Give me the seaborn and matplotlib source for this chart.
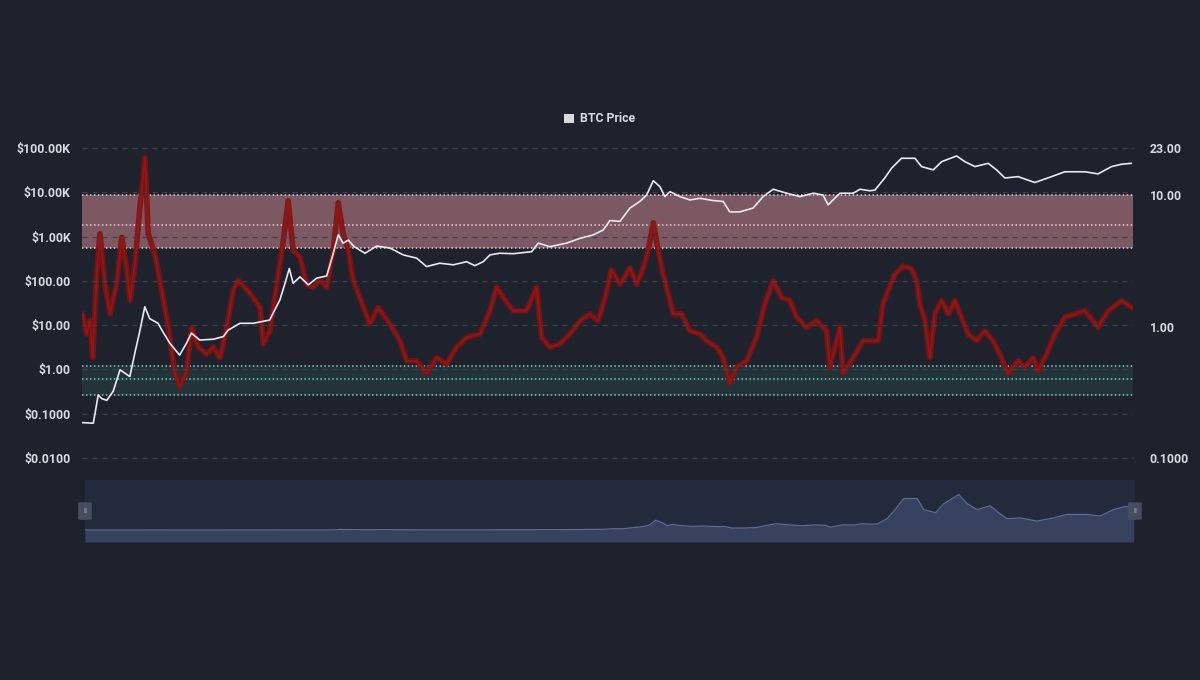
import numpy as np
import pandas as pd
import matplotlib
matplotlib.use("Agg")
import matplotlib.pyplot as plt
from matplotlib.patches import Patch, FancyBboxPatch
import seaborn as sns

# ---------------- data ----------------
price_dates = [
    "2010-08-16", "2010-10-08", "2010-10-16", "2010-10-31", "2010-11-16", "2010-12-10",
    "2011-01-09", "2011-02-10", "2011-03-28", "2011-04-20", "2011-05-13", "2011-06-06",
    "2011-06-29", "2011-08-07", "2011-08-30", "2011-10-01", "2011-11-16", "2011-12-18",
    "2012-01-10", "2012-02-18", "2012-04-21", "2012-06-07", "2012-06-30", "2012-08-24",
    "2012-10-25", "2013-01-10", "2013-02-27", "2013-03-23", "2013-04-12", "2013-04-30",
    "2013-06-01", "2013-07-10", "2013-08-18", "2013-10-04", "2013-11-04", "2013-11-27",
    "2013-12-20", "2014-01-13", "2014-02-10", "2014-04-01", "2014-05-26", "2014-07-27",
    "2014-09-27", "2014-11-29", "2015-01-14", "2015-03-17", "2015-05-19", "2015-07-21",
    "2015-08-28", "2015-10-06", "2015-11-07", "2015-12-23", "2016-02-24", "2016-05-20",
    "2016-06-20", "2016-08-13", "2016-10-30", "2017-01-01", "2017-03-04", "2017-04-20",
    "2017-05-21", "2017-07-07", "2017-08-23", "2017-10-08", "2017-11-09", "2017-12-10",
    "2018-01-10", "2018-02-02", "2018-02-26", "2018-04-13", "2018-05-30", "2018-07-16",
    "2018-09-16", "2018-11-02", "2018-12-03", "2019-01-19", "2019-03-22", "2019-05-08",
    "2019-06-24", "2019-08-26", "2019-10-27", "2019-12-28", "2020-02-12", "2020-03-07",
    "2020-05-01", "2020-07-02", "2020-08-03", "2020-09-18", "2020-10-12", "2020-11-27",
    "2020-12-29", "2021-02-13", "2021-04-17", "2021-05-18", "2021-07-12", "2021-08-20",
    "2021-10-29", "2021-12-07", "2022-01-23", "2022-03-26", "2022-05-04", "2022-06-12",
    "2022-08-13", "2022-10-30", "2023-01-16", "2023-03-19", "2023-06-21", "2023-08-22",
    "2023-10-24", "2023-12-10", "2024-01-25",
]
price_values = [
    0.063, 0.061, 0.10, 0.265, 0.22, 0.20,
    0.32, 0.98, 0.69, 2.3, 7.1, 26,
    14, 11, 7, 3.9, 2.1, 3.9,
    6.6, 4.6, 4.8, 5.5, 7.7, 11,
    11, 13, 37, 88, 190, 88,
    123, 81, 115, 129, 420, 1090,
    710, 830, 590, 420, 610, 550,
    385, 325, 210, 250, 230, 270,
    220, 270, 385, 420, 410, 455,
    710, 590, 710, 910, 1090, 1410,
    2300, 2200, 4400, 6200, 8700, 18200,
    13400, 8000, 10300, 8000, 6700, 7300,
    6500, 6200, 3600, 3600, 4400, 8000,
    11700, 9500, 8000, 9500, 8700, 5200,
    9500, 9500, 11700, 10800, 11200, 21000,
    35000, 58500, 58500, 38000, 32000, 49000,
    66000, 49000, 38000, 45000, 32000, 21000,
    22500, 16600, 22500, 29000, 29000, 26000,
    38000, 43000, 45000,
]

puell_dates = [
    "2010-08-19", "2010-09-07", "2010-09-22", "2010-10-05", "2010-10-24", "2010-11-08",
    "2010-12-02", "2010-12-25", "2011-01-25", "2011-02-18", "2011-03-13", "2011-03-29",
    "2011-04-21", "2011-05-14", "2011-06-07", "2011-06-22", "2011-07-23", "2011-08-24",
    "2011-09-24", "2011-10-25", "2011-11-17", "2011-12-19", "2012-01-11", "2012-02-11",
    "2012-03-21", "2012-04-21", "2012-05-23", "2012-06-23", "2012-07-24", "2012-08-16",
    "2012-09-16", "2012-10-25", "2012-11-26", "2012-12-11", "2013-01-11", "2013-02-12",
    "2013-03-15", "2013-04-07", "2013-04-30", "2013-06-01", "2013-07-02", "2013-08-02",
    "2013-09-02", "2013-10-04", "2013-11-04", "2013-11-27", "2013-12-20", "2014-01-13",
    "2014-02-05", "2014-03-08", "2014-04-24", "2014-06-02", "2014-07-27", "2014-09-12",
    "2014-10-13", "2014-11-29", "2015-01-14", "2015-03-02", "2015-04-18", "2015-06-04",
    "2015-07-21", "2015-09-21", "2015-11-07", "2015-12-08", "2016-01-08", "2016-02-24",
    "2016-04-26", "2016-06-12", "2016-07-05", "2016-08-13", "2016-09-29", "2016-11-15",
    "2017-01-01", "2017-02-16", "2017-03-27", "2017-04-28", "2017-05-29", "2017-07-07",
    "2017-08-23", "2017-09-23", "2017-10-24", "2017-11-16", "2017-12-10", "2018-01-02",
    "2018-01-25", "2018-02-18", "2018-03-13", "2018-04-21", "2018-05-30", "2018-07-16",
    "2018-08-16", "2018-10-02", "2018-11-02", "2018-12-03", "2019-01-04", "2019-02-19",
    "2019-04-07", "2019-05-16", "2019-06-24", "2019-08-02", "2019-09-10", "2019-10-11",
    "2019-11-27", "2020-01-13", "2020-02-29", "2020-03-15", "2020-05-01", "2020-05-16",
    "2020-07-02", "2020-08-18", "2020-10-27", "2020-11-19", "2020-12-13", "2021-01-13",
    "2021-02-21", "2021-04-01", "2021-04-25", "2021-05-10", "2021-06-03", "2021-06-26",
    "2021-07-19", "2021-08-20", "2021-09-20", "2021-10-21", "2021-11-21", "2021-12-22",
    "2022-01-30", "2022-03-10", "2022-04-18", "2022-05-19", "2022-06-27", "2022-08-13",
    "2022-09-13", "2022-10-22", "2022-11-15", "2022-12-24", "2023-02-01", "2023-03-19",
    "2023-05-05", "2023-06-21", "2023-08-22", "2023-10-08", "2023-12-10", "2024-01-25",
]
puell_values = [
    1.25, 0.88, 1.11, 0.58, 2.5, 5.1,
    2.1, 1.25, 2.1, 4.8, 2.8, 1.58,
    3.0, 8.1, 19.4, 5.1, 3.6, 1.9,
    0.99, 0.44, 0.35, 0.46, 0.99, 0.70,
    0.62, 0.70, 0.58, 0.99, 1.9, 2.24,
    2.0, 1.67, 1.40, 0.74, 0.93, 2.1,
    4.5, 9.1, 3.8, 3.4, 2.1, 2.0,
    2.24, 2.0, 3.8, 8.8, 5.1, 3.8,
    2.24, 1.67, 1.05, 1.40, 1.05, 0.78,
    0.55, 0.55, 0.44, 0.58, 0.52, 0.70,
    0.83, 0.88, 1.32, 2.0, 1.67, 1.32,
    1.32, 2.0, 0.83, 0.70, 0.74, 0.88,
    1.11, 1.25, 1.11, 1.67, 2.7, 2.1,
    2.8, 2.1, 2.8, 3.8, 6.2, 3.8,
    2.5, 1.77, 1.25, 1.25, 0.93, 0.88,
    0.78, 0.70, 0.58, 0.37, 0.49, 0.55,
    0.83, 1.49, 2.24, 1.67, 1.58, 1.18,
    0.99, 1.11, 0.93, 0.49, 0.99, 0.44,
    0.58, 0.78, 0.78, 1.49, 1.9, 2.5,
    2.9, 2.75, 2.24, 1.49, 1.11, 0.58,
    1.25, 1.58, 1.25, 1.58, 1.18, 0.88,
    0.78, 0.93, 0.78, 0.62, 0.44, 0.55,
    0.49, 0.58, 0.46, 0.62, 0.88, 1.18,
    1.25, 1.32, 0.99, 1.32, 1.58, 1.40,
]

x_tick_dates = [
    "2010-08-16", "2011-04-13", "2011-12-09", "2012-08-05", "2013-04-02", "2013-11-28",
    "2014-07-26", "2015-03-23", "2015-11-18", "2016-07-15", "2017-03-12", "2017-11-07",
    "2018-07-05", "2019-03-02", "2019-10-28", "2020-06-24", "2021-02-19", "2021-10-17",
    "2022-06-14", "2023-02-09", "2023-10-07",
]
x_tick_labels = [
    "16 Aug", "13 Apr", "9 Dec", "5 Aug", "2 Apr", "28 Nov", "26 Jul", "23 Mar", "18 Nov",
    "15 Jul", "12 Mar", "7 Nov", "5 Jul", "2 Mar", "28 Oct", "24 Jun", "19 Feb", "17 Oct",
    "14 Jun", "9 Feb", "7 Oct",
]
left_ticks = [0.01, 0.1, 1, 10, 100, 1000, 10000, 100000]
left_labels = ["$0.0100", "$0.1000", "$1.00", "$10.00", "$100.00", "$1.00K", "$10.00K", "$100.00K"]
right_ticks = [0.1, 1, 10, 23]
right_labels = ["0.1000", "1.00", "10.00", "23.00"]
red_band = [4, 6, 10]
green_band = [0.3, 0.4, 0.5]
x_start, x_end = "2010-08-16", "2024-02-01"

# ---------------- styling ----------------
BG = "#1e222d"
TXT = "#d8dbe2"
sns.set_theme(style="dark")
plt.rcParams["font.family"] = ["Roboto", "DejaVu Sans"]
plt.rcParams.update({
    "figure.facecolor": BG, "axes.facecolor": BG, "savefig.facecolor": BG,
    "text.color": TXT, "xtick.color": TXT, "ytick.color": TXT,
})

price_df = pd.DataFrame({"date": pd.to_datetime(price_dates), "price": price_values})
puell_df = pd.DataFrame({"date": pd.to_datetime(puell_dates), "puell": puell_values})
xlim = (pd.Timestamp(x_start), pd.Timestamp(x_end))

fig = plt.figure(figsize=(12, 6.8), dpi=100)
ax2 = fig.add_axes([0.0683, 0.3265, 0.8758, 0.4559])   # Puell (right axis)
ax = ax2.twinx()                                         # price (left axis)
ax.yaxis.tick_left()
ax2.yaxis.tick_right()
ax.set_zorder(ax2.get_zorder() + 1)
ax.patch.set_visible(False)

# bands on Puell axis
ax2.axhspan(red_band[0], red_band[-1], color="#f19aa7", alpha=0.45, lw=0, zorder=1)
ax2.axhspan(green_band[0], green_band[-1], color="#3b8a80", alpha=0.17, lw=0, zorder=1)
for v in red_band:
    ax2.axhline(v, color="#f2cbd3", lw=1.1, ls=(0, (1, 1.6)), zorder=2)
for v in green_band:
    ax2.axhline(v, color="#86cfc3", lw=1.1, ls=(0, (1, 1.6)), zorder=2)

sns.lineplot(data=puell_df, x="date", y="puell", ax=ax2, color="#7e1212",
             lw=4.0, alpha=0.9, estimator=None, zorder=3, legend=False)
sns.lineplot(data=puell_df, x="date", y="puell", ax=ax2, color="#951818",
             lw=1.2, alpha=0.9, estimator=None, zorder=3, legend=False)
ax2.set_yscale("log")
ax2.set_ylim(0.1, 23)
ax2.set_yticks(right_ticks)
ax2.set_yticklabels(right_labels)
ax2.yaxis.set_minor_locator(plt.NullLocator())

sns.lineplot(data=price_df, x="date", y="price", ax=ax, color="#e8eaef",
             lw=1.2, estimator=None, zorder=4, legend=False)
ax.set_yscale("log")
ax.set_ylim(0.01, 100000)
ax.set_yticks(left_ticks)
ax.set_yticklabels(left_labels)
ax.yaxis.set_minor_locator(plt.NullLocator())
ax.grid(axis="y", color="#3c404c", ls=(0, (4, 4)), lw=0.9)
ax.grid(axis="x", visible=False)
ax2.grid(False)
ax.axhline(left_ticks[0], color="#3c404c", ls=(0, (4, 4)), lw=0.9, clip_on=False)
ax.axhline(left_ticks[-1], color="#3c404c", ls=(0, (4, 4)), lw=0.9, clip_on=False)

for a in (ax, ax2):
    a.set_xlim(*xlim)
    a.set_xlabel("")
    a.set_ylabel("")
    for s in a.spines.values():
        s.set_visible(False)
    a.tick_params(length=0, labelsize=8.8)
for lab in ax.get_yticklabels() + ax2.get_yticklabels():
    lab.set_fontweight("bold")
ax.tick_params(axis="y", pad=8)
ax2.tick_params(axis="y", pad=12)

ax2.set_xticks(pd.to_datetime(x_tick_dates))
ax2.set_xticklabels(x_tick_labels, fontsize=8.8, color="#c3c6cf")
ax2.tick_params(axis="x", pad=5)
ax.set_xticks([])

# legend
fig.legend(handles=[Patch(facecolor="#d9dbe0", edgecolor="none", label="BTC Price")],
           loc="center", bbox_to_anchor=(0.5, 0.825), frameon=False,
           prop={"size": 8.8, "weight": "bold"},
           handlelength=0.8, handleheight=0.8, handletextpad=0.5, labelcolor=TXT)

# navigator
nav = fig.add_axes([0.0708, 0.2029, 0.875, 0.0912])
nav.set_facecolor("#222a3c")
nav_floor = -22400
nav.fill_between(price_df["date"], price_df["price"], nav_floor, color="#37425f", lw=0)
sns.lineplot(data=price_df, x="date", y="price", ax=nav, color="#5e6c94", lw=0.9,
             estimator=None, legend=False)
nav.set_xlim(*xlim)
nav.set_ylim(nav_floor, 93000)
nav.set_xticks([])
nav.set_yticks([])
nav.set_xlabel("")
nav.set_ylabel("")
for s in nav.spines.values():
    s.set_visible(False)
for hx in (0.0, 1.0):
    nav.add_patch(FancyBboxPatch((hx - 0.0055, 0.36), 0.011, 0.28,
                                 boxstyle="round,pad=0.001,rounding_size=0.005",
                                 transform=nav.transAxes, facecolor="#474d5e", edgecolor="none",
                                 clip_on=False, zorder=5))
    nav.text(hx, 0.5, "II", transform=nav.transAxes, ha="center", va="center",
             fontsize=5.5, color="#b5bac6", zorder=6, clip_on=False)

fig.savefig("out.png", dpi=100, facecolor=BG)
